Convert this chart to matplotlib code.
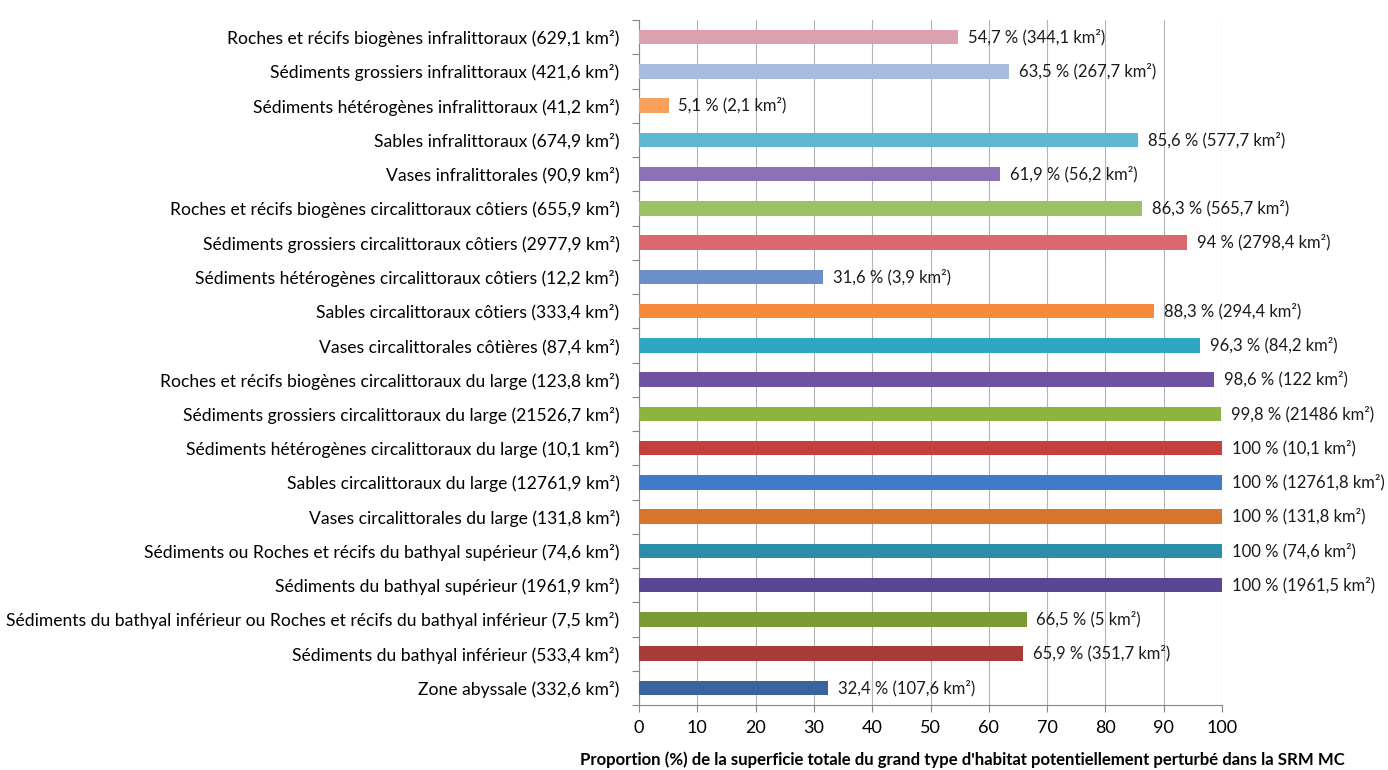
import numpy as np
import matplotlib
matplotlib.use('Agg')
import matplotlib.pyplot as plt
from matplotlib.ticker import MultipleLocator

plt.rcParams['font.family'] = ['Lato', 'DejaVu Sans']

# habitat types (top to bottom) with total surface (km²)
habitats = [
    'Roches et récifs biogènes infralittoraux',
    'Sédiments grossiers infralittoraux',
    'Sédiments hétérogènes infralittoraux',
    'Sables infralittoraux',
    'Vases infralittorales',
    'Roches et récifs biogènes circalittoraux côtiers',
    'Sédiments grossiers circalittoraux côtiers',
    'Sédiments hétérogènes circalittoraux côtiers',
    'Sables circalittoraux côtiers',
    'Vases circalittorales côtières',
    'Roches et récifs biogènes circalittoraux du large',
    'Sédiments grossiers circalittoraux du large',
    'Sédiments hétérogènes circalittoraux du large',
    'Sables circalittoraux du large',
    'Vases circalittorales du large',
    'Sédiments ou Roches et récifs du bathyal supérieur',
    'Sédiments du bathyal supérieur',
    'Sédiments du bathyal inférieur ou Roches et récifs du bathyal inférieur',
    'Sédiments du bathyal inférieur',
    'Zone abyssale',
]
surface_tot = [629.1, 421.6, 41.2, 674.9, 90.9, 655.9, 2977.9, 12.2, 333.4, 87.4,
               123.8, 21526.7, 10.1, 12761.9, 131.8, 74.6, 1961.9, 7.5, 533.4, 332.6]
pct_perturb = [54.7, 63.5, 5.1, 85.6, 61.9, 86.3, 94, 31.6, 88.3, 96.3,
               98.6, 99.8, 100, 100, 100, 100, 100, 66.5, 65.9, 32.4]
surface_perturb = [344.1, 267.7, 2.1, 577.7, 56.2, 565.7, 2798.4, 3.9, 294.4, 84.2,
                   122, 21486, 10.1, 12761.8, 131.8, 74.6, 1961.5, 5, 351.7, 107.6]

colors = ['#DBA1AE', '#A7BDE0', '#F9A15A', '#5DB7D0', '#8B71B5',
          '#9BC165', '#D9696E', '#6C8FCB', '#F58A3A', '#2FA6C3',
          '#6F52A0', '#8DB43E', '#C4403F', '#3F7BC8', '#D8752C',
          '#2B8DAA', '#5B4594', '#7A9A33', '#A83A38', '#3A64A0']


def fr(v):
    return f'{v:g}'.replace('.', ',')


labels = [f'{h} ({fr(s)} km²)' for h, s in zip(habitats, surface_tot)]
y = np.arange(len(habitats))

fig = plt.figure(figsize=(13.88, 7.70), dpi=100)
ax = fig.add_axes([0.4604, 0.0844, 0.42, 0.8896])

ax.barh(y, pct_perturb, height=0.42, color=colors, zorder=3)
for yi, p, s in zip(y, pct_perturb, surface_perturb):
    ax.annotate(f'{fr(p)} % ({fr(s)} km²)', xy=(p, yi), xytext=(7, 0),
                textcoords='offset points', va='center', ha='left',
                fontsize=12, color='#1a1a1a', zorder=4)

ax.set_xlim(0, 100)
ax.set_ylim(len(habitats) - 0.5, -0.5)
ax.xaxis.set_major_locator(MultipleLocator(10))
ax.grid(axis='x', color='#b4b4b4', linewidth=0.8, zorder=0)

ax.set_yticks(y)
ax.set_yticklabels(labels, fontsize=12.6)
ax.set_yticks(np.arange(len(habitats) + 1) - 0.5, minor=True)
ax.tick_params(axis='y', which='major', length=0, pad=14)
ax.tick_params(axis='y', which='minor', length=5, color='#868686', width=0.8)
ax.tick_params(axis='x', length=5, color='#868686', width=0.8, labelsize=13, pad=6)

for side in ['top', 'right']:
    ax.spines[side].set_visible(False)
for side in ['left', 'bottom']:
    ax.spines[side].set_color('#868686')
    ax.spines[side].set_linewidth(0.8)

# axis title, centred a little right of the plot like the original
fig.text(962 / 1388, 1 - 760 / 770,
         "Proportion (%) de la superficie totale du grand type d'habitat potentiellement perturbé dans la SRM MC",
         fontsize=12.1, fontweight='bold', ha='center', va='center')

fig.savefig('out.png', dpi=100)
